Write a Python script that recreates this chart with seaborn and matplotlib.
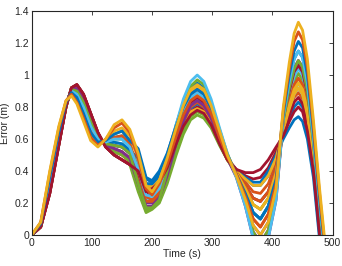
import matplotlib
matplotlib.use("Agg")
import pandas as pd
import matplotlib.pyplot as plt
import seaborn as sns

# sample times (s) shared by every run
time_s = [0, 15, 30, 45, 57, 66, 75, 86, 98, 110, 123, 137, 150, 163,
          177, 190, 200, 212, 225, 240, 252, 264, 275, 286, 298, 312, 325,
          340, 355, 368, 380, 393, 406, 418, 428, 436, 443, 450, 458, 468, 478, 490]

# error (m) of each run
run_01 = [0, .06, .30, .60, .81, .91, .90, .83, .71, .61, .57, .56, .55, .51, .47, .32, .32, .37,
          .46, .61, .72, .79, .82, .79, .72, .59, .48, .40, .35, .31, .31, .37, .48,
          .63, .73, .80, .83, .80, .68, .41, .03, -.36]
run_02 = [0, .05, .27, .57, .80, .92, .93, .86, .74, .63, .56, .52, .50, .46, .37, .23, .25, .29,
          .39, .56, .67, .75, .78, .76, .69, .57, .47, .40, .33, .27, .26, .32, .45,
          .65, .77, .86, .89, .85, .73, .45, .06, -.34]
run_03 = [0, .07, .33, .62, .82, .90, .88, .80, .68, .60, .58, .60, .60, .55, .45, .29, .28, .33,
          .45, .63, .76, .85, .88, .85, .76, .62, .49, .39, .29, .19, .16, .23, .39,
          .68, .83, .94, .98, .94, .80, .50, .11, -.30]
run_04 = [0, .06, .29, .58, .81, .91, .92, .85, .73, .62, .56, .54, .52, .48, .34, .20, .20, .25,
          .37, .55, .68, .77, .80, .78, .70, .58, .48, .37, .22, .06, .00, .08, .29,
          .71, .90, 1.02, 1.06, 1.02, .88, .56, .16, -.26]
run_05 = [0, .05, .26, .56, .80, .92, .94, .88, .76, .64, .55, .50, .47, .44, .27, .14, .16, .20,
          .32, .50, .63, .72, .75, .73, .67, .56, .47, .38, .26, .14, .10, .18, .35,
          .67, .81, .91, .95, .91, .78, .49, .09, -.31]
run_06 = [0, .06, .32, .61, .82, .90, .89, .81, .69, .60, .57, .58, .57, .53, .38, .22, .22, .27,
          .40, .60, .73, .83, .86, .83, .75, .61, .49, .39, .31, .23, .21, .27, .42,
          .66, .79, .88, .92, .88, .75, .47, .08, -.33]
run_07 = [0, .05, .26, .56, .80, .92, .94, .88, .76, .64, .55, .50, .47, .44, .42, .29, .31, .35,
          .44, .59, .70, .77, .80, .78, .70, .58, .48, .41, .37, .35, .36, .42, .52,
          .64, .75, .83, .86, .82, .70, .43, .04, -.35]
run_08 = [0, .07, .34, .63, .82, .89, .87, .78, .66, .59, .58, .61, .62, .57, .52, .35, .33, .39,
          .48, .63, .74, .81, .84, .81, .73, .60, .48, .40, .36, .33, .33, .40, .50,
          .60, .67, .72, .74, .71, .60, .36, -.02, -.40]
run_09 = [0, .06, .29, .58, .81, .91, .92, .85, .73, .62, .56, .54, .52, .48, .35, .21, .21, .26,
          .41, .62, .77, .86, .90, .87, .78, .63, .50, .38, .24, .10, .05, .13, .32,
          .71, .90, 1.02, 1.06, 1.02, .88, .56, .16, -.26]
run_10 = [0, .07, .36, .64, .83, .89, .86, .76, .64, .58, .59, .63, .65, .59, .50, .32, .30, .36,
          .45, .59, .70, .77, .79, .77, .70, .58, .47, .40, .35, .31, .31, .37, .48,
          .66, .79, .88, .92, .88, .75, .47, .08, -.33]
run_11 = [0, .06, .30, .60, .81, .91, .90, .83, .71, .61, .57, .56, .55, .51, .40, .25, .25, .30,
          .44, .64, .79, .89, .92, .89, .79, .64, .50, .37, .20, .02, -.05, .03, .25,
          .72, .92, 1.04, 1.09, 1.05, .90, .58, .17, -.25]
run_12 = [0, .05, .27, .57, .80, .92, .93, .86, .74, .63, .56, .52, .50, .46, .29, .15, .17, .21,
          .34, .52, .65, .74, .77, .75, .68, .57, .47, .39, .29, .19, .16, .23, .39,
          .69, .85, .96, 1.01, .97, .83, .52, .12, -.29]
run_13 = [0, .07, .33, .62, .82, .90, .88, .80, .68, .60, .58, .60, .60, .55, .43, .27, .26, .31,
          .44, .63, .77, .86, .89, .86, .77, .62, .49, .38, .26, .14, .10, .18, .35,
          .70, .88, .99, 1.04, 1.00, .85, .54, .14, -.28]
run_14 = [0, .05, .26, .56, .80, .92, .94, .88, .76, .64, .55, .50, .47, .44, .39, .26, .28, .32,
          .44, .62, .74, .83, .86, .83, .75, .61, .49, .39, .31, .23, .21, .27, .42,
          .71, .90, 1.02, 1.06, 1.02, .88, .56, .16, -.26]
run_15 = [0, .06, .32, .61, .82, .90, .89, .81, .69, .60, .57, .58, .57, .53, .48, .32, .32, .37,
          .50, .69, .83, .92, .95, .92, .82, .65, .50, .38, .26, .14, .10, .18, .35,
          .74, .96, 1.10, 1.15, 1.11, .95, .61, .20, -.23]
run_16 = [0, .07, .34, .63, .82, .89, .87, .78, .66, .59, .58, .61, .62, .57, .41, .24, .22, .28,
          .40, .58, .71, .80, .83, .80, .73, .60, .48, .39, .31, .23, .21, .27, .42,
          .68, .83, .94, .98, .94, .80, .50, .11, -.30]
run_17 = [0, .07, .37, .66, .83, .88, .84, .74, .62, .57, .59, .65, .67, .62, .49, .30, .28, .34,
          .48, .67, .81, .90, .93, .90, .80, .64, .50, .39, .29, .19, .16, .23, .39,
          .67, .81, .91, .95, .91, .78, .49, .09, -.31]
run_18 = [0, .06, .29, .58, .81, .91, .92, .85, .73, .62, .56, .54, .52, .48, .32, .18, .18, .23,
          .37, .57, .71, .81, .84, .81, .73, .60, .48, .36, .18, -.02, -.10, -.02, .22,
          .72, .92, 1.04, 1.09, 1.05, .90, .58, .17, -.25]
run_19 = [0, .06, .30, .60, .81, .91, .90, .83, .71, .61, .57, .56, .55, .51, .32, .17, .17, .22,
          .40, .64, .81, .93, .97, .94, .83, .66, .51, .37, .20, .02, -.05, .03, .25,
          .72, .92, 1.04, 1.09, 1.05, .90, .58, .17, -.25]
run_20 = [0, .07, .33, .62, .82, .90, .88, .80, .68, .60, .58, .60, .60, .55, .41, .25, .24, .29,
          .46, .69, .85, .96, 1.00, .96, .85, .67, .51, .36, .18, -.02, -.10, -.02, .22,
          .74, .96, 1.10, 1.15, 1.11, .95, .61, .20, -.23]
run_21 = [0, .05, .26, .56, .80, .92, .94, .88, .76, .64, .55, .50, .47, .44, .40, .27, .29, .33,
          .42, .57, .68, .75, .78, .76, .69, .57, .47, .41, .39, .39, .41, .47, .55,
          .62, .71, .77, .80, .77, .65, .40, .01, -.38]
run_22 = [0, .07, .36, .64, .83, .89, .86, .76, .64, .58, .59, .63, .65, .59, .54, .36, .34, .40,
          .51, .68, .80, .88, .91, .88, .79, .63, .50, .38, .26, .14, .10, .18, .35,
          .76, 1.00, 1.15, 1.21, 1.17, 1.00, .65, .24, -.20]
run_23 = [0, .08, .39, .67, .84, .88, .83, .73, .61, .56, .60, .67, .70, .64, .48, .29, .25, .32,
          .44, .62, .75, .84, .87, .84, .76, .61, .49, .38, .24, .10, .05, .13, .32,
          .78, 1.04, 1.21, 1.27, 1.22, 1.05, .68, .27, -.18]
run_24 = [0, .08, .40, .68, .84, .87, .82, .71, .59, .55, .60, .69, .72, .66, .51, .31, .27, .34,
          .48, .67, .81, .91, .94, .91, .81, .65, .50, .37, .22, .06, .00, .08, .29,
          .80, 1.08, 1.26, 1.33, 1.28, 1.10, .72, .30, -.15]

runs = [run_01, run_02, run_03, run_04, run_05, run_06, run_07, run_08,
        run_09, run_10, run_11, run_12, run_13, run_14, run_15, run_16,
        run_17, run_18, run_19, run_20, run_21, run_22, run_23, run_24]

# default MATLAB line color order
matlab_colors = ["#0072BD", "#D95319", "#EDB120", "#7E2F8E",
                 "#77AC30", "#4DBEEE", "#A2142F"]

y_ticks = [0, 0.2, 0.4, 0.6, 0.8, 1.0, 1.2, 1.4]
y_tick_labels = ["0", "0.2", "0.4", "0.6", "0.8", "1", "1.2", "1.4"]
x_ticks = [0, 100, 200, 300, 400, 500]


def build_frame():
    rows = []
    for i, vals in enumerate(runs):
        for t, v in zip(time_s, vals):
            rows.append((f"run_{i + 1:02d}", t, v))
    return pd.DataFrame(rows, columns=["run", "Time", "Error"])


def plot_data(df):
    sns.set_style("white")
    plt.rcParams["font.family"] = ["Liberation Sans", "DejaVu Sans"]

    palette = [matlab_colors[i % len(matlab_colors)] for i in range(len(runs))]

    fig = plt.figure(figsize=(3.42, 2.66), dpi=100)
    ax = fig.add_axes([0.0927, 0.1165, 0.880, 0.842])
    sns.lineplot(data=df, x="Time", y="Error", hue="run", palette=palette,
                 estimator=None, sort=False, linewidth=2.0, legend=False, ax=ax)

    ax.set_xlim(0, 500)
    ax.set_ylim(0, 1.4)
    ax.set_xticks(x_ticks)
    ax.set_xticklabels([str(x) for x in x_ticks])
    ax.set_yticks(y_ticks)
    ax.set_yticklabels(y_tick_labels)
    ax.tick_params(direction="in", length=3, width=0.6, top=True, right=True,
                   labelsize=7.5, colors="#262626", pad=2)
    for sp in ax.spines.values():
        sp.set_visible(True)
        sp.set_color("#262626")
        sp.set_linewidth(0.8)
        sp.set_zorder(5)

    ax.set_xlabel("Time (s)", fontsize=7.5, color="#262626", labelpad=1)
    ax.set_ylabel("Error (m)", fontsize=7.5, color="#262626", labelpad=3)

    fig.savefig("out.png", dpi=100)


def main():
    df = build_frame()
    plot_data(df)


if __name__ == "__main__":
    main()
